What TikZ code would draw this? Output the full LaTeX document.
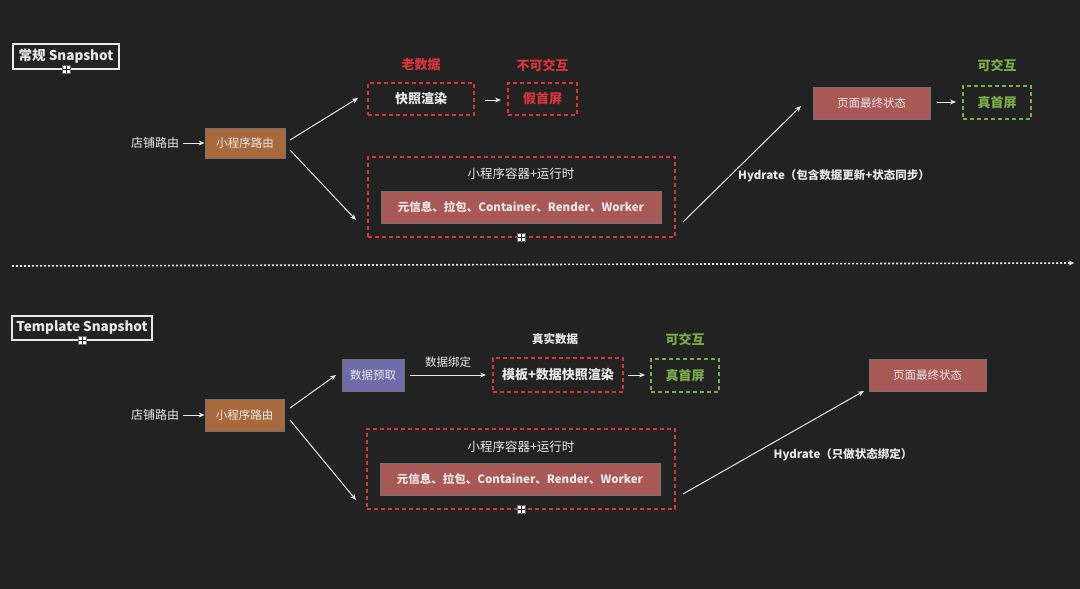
\documentclass[tikz,border=0pt]{standalone}
\usepackage{fontspec}
\setmainfont{Noto Sans CJK SC}
\usetikzlibrary{arrows.meta}
\definecolor{bgc}{HTML}{222222}
\definecolor{boxbrown}{HTML}{A86A3C}
\definecolor{boxred}{HTML}{A85855}
\definecolor{boxpurple}{HTML}{6F6BA8}
\definecolor{dred}{HTML}{D8353B}
\definecolor{gr}{HTML}{7AAE46}
\definecolor{fg}{HTML}{E8E8E8}
\tikzset{
  fnt/.style={font=\fontsize{#1}{#1}\selectfont},
  solidbox/.style={draw=black!55, line width=0.8pt, fill=#1, text=fg, inner sep=0pt, fnt=11.5},
  redbox/.style={draw=dred, line width=1.8pt, dash pattern=on 4pt off 3pt, inner sep=0pt},
  greenbox/.style={draw=gr, line width=1.8pt, dash pattern=on 4pt off 3pt, inner sep=0pt, text=gr, font=\fontsize{13}{13}\selectfont\bfseries},
  titlebox/.style={draw=fg, line width=1.2pt, text=fg, inner sep=0pt, font=\fontsize{13.5}{13.5}\selectfont\bfseries},
  lbl/.style={text=fg, inner sep=0pt, fnt=12},
  redlbl/.style={text=dred, inner sep=0pt, font=\fontsize{13}{13}\selectfont\bfseries},
  greenlbl/.style={text=gr, inner sep=0pt, font=\fontsize{13}{13}\selectfont\bfseries},
  conn/.style={draw=fg, line width=1pt, -{Stealth[length=6pt,width=5pt]}},
  handle/.style={draw=black!60, line width=0.4pt, fill=white, minimum size=8pt, inner sep=0pt,
    path picture={\draw[bgc, line width=0.8pt] (path picture bounding box.north) -- (path picture bounding box.south)
      (path picture bounding box.west) -- (path picture bounding box.east);}},
}
\begin{document}
\begin{tikzpicture}[x=1pt,y=-1pt]
\fill[bgc] (0,0) rectangle (1080,589);
\useasboundingbox (0,0) rectangle (1080,589);

% ===== top section =====
\node[titlebox, minimum width=106pt, minimum height=25pt] (t1) at (66,56.5) {常规 Snapshot};
\node[handle] (h1) at (66,69) {};

\node[lbl] (s1) at (155,143) {店铺路由};
\node[solidbox=boxbrown, minimum width=80pt, minimum height=30pt] (r1) at (245,143) {小程序路由};
\coordinate (s1o) at (183,143);
\draw[conn] (s1o) -- (r1.west);

\node[redbox, minimum width=106pt, minimum height=32pt, text=fg, font=\fontsize{13}{13}\selectfont\bfseries] (k1) at (421,99) {快照渲染};
\node[redlbl] (l1) at (421,65) {老数据};
\node[redbox, minimum width=69pt, minimum height=32pt, text=dred, font=\fontsize{13}{13}\selectfont\bfseries] (f1) at (542.5,99) {假首屏};
\node[redlbl] (l2) at (542.5,65) {不可交互};
\coordinate (a1) at (485,100);
\coordinate (a2) at (501,100);
\draw[conn] (a1) -- (a2);

\node[redbox, minimum width=307pt, minimum height=80pt] (c1) at (521.5,197) {};
\node[lbl, fnt=12.5] (ct1) at (521,174) {小程序容器+运行时};
\node[solidbox=boxred, minimum width=280pt, minimum height=32pt, font=\fontsize{11.5}{11.5}\selectfont\bfseries] (m1) at (521,207) {元信息、拉包、Container、Render、Worker};
\node[handle] (h2) at (521,237) {};

\coordinate (r1a) at (290,140);
\coordinate (r1b) at (290,150);
\coordinate (k1in) at (358,98);
\coordinate (c1in) at (356,220);
\draw[conn] (r1a) -- (k1in);
\draw[conn] (r1b) -- (c1in);

\node[solidbox=boxred, minimum width=117pt, minimum height=32pt] (p1) at (871.5,103) {页面最终状态};
\node[greenbox, minimum width=68pt, minimum height=33pt] (g1) at (997,102.5) {真首屏};
\node[greenlbl] (gl1) at (997,65) {可交互};
\coordinate (p1o) at (937,102);
\coordinate (g1i) at (956,102);
\draw[conn] (p1o) -- (g1i);
\coordinate (hy1s) at (683,222);
\coordinate (hy1e) at (801,106);
\draw[conn] (hy1s) -- (hy1e);
\node[lbl, font=\fontsize{11.5}{11.5}\selectfont\bfseries] (hl1) at (834,176) {Hydrate（包含数据更新+状态同步）};

% ===== separator =====
\coordinate (sep1) at (12,266);
\coordinate (sep2) at (1074,263);
\draw[fg, line width=1.6pt, dash pattern=on 2pt off 2pt, -{Stealth[length=5pt,width=5pt]}] (sep1) -- (sep2);

% ===== bottom section =====
\node[titlebox, minimum width=140pt, minimum height=24pt] (t2) at (82,328) {Template Snapshot};
\node[handle] (h3) at (82,340) {};

\node[lbl] (s2) at (155,415) {店铺路由};
\node[solidbox=boxbrown, minimum width=79pt, minimum height=32pt] (r2) at (244.5,415) {小程序路由};
\coordinate (s2o) at (183,415);
\draw[conn] (s2o) -- (r2.west);

\node[solidbox=boxpurple, minimum width=62pt, minimum height=32pt] (d2) at (373,375) {数据预取};
\node[lbl, fnt=11.5] (bl2) at (448,362) {数据绑定};
\coordinate (d2o) at (410,375);
\coordinate (k2i) at (486,375);
\draw[conn] (d2o) -- (k2i);

\node[redbox, minimum width=130pt, minimum height=34pt, text=fg, font=\fontsize{13}{13}\selectfont\bfseries] (k2) at (558,375) {模板+数据快照渲染};
\node[lbl, font=\fontsize{11.5}{11.5}\selectfont\bfseries] (l3) at (555,339) {真实数据};
\node[greenbox, minimum width=68pt, minimum height=33pt] (g2) at (685,375.5) {真首屏};
\node[greenlbl] (gl2) at (685,339) {可交互};
\coordinate (k2o) at (628,375);
\coordinate (g2i) at (645,375);
\draw[conn] (k2o) -- (g2i);

\node[redbox, minimum width=308pt, minimum height=80pt] (c2) at (521,469) {};
\node[lbl, fnt=12.5] (ct2) at (521,447) {小程序容器+运行时};
\node[solidbox=boxred, minimum width=280pt, minimum height=32pt, font=\fontsize{11.5}{11.5}\selectfont\bfseries] (m2) at (520,479) {元信息、拉包、Container、Render、Worker};
\node[handle] (h4) at (521,509) {};

\coordinate (r2a) at (290,408);
\coordinate (r2b) at (290,420);
\coordinate (d2i) at (336,375);
\coordinate (c2in) at (356,500);
\draw[conn] (r2a) -- (d2i);
\draw[conn] (r2b) -- (c2in);

\node[solidbox=boxred, minimum width=117pt, minimum height=32pt] (p2) at (927.5,375) {页面最终状态};
\coordinate (hy2s) at (683,494);
\coordinate (hy2e) at (864,391);
\draw[conn] (hy2s) -- (hy2e);
\node[lbl, font=\fontsize{11.5}{11.5}\selectfont\bfseries] (hl2) at (843,455) {Hydrate（只做状态绑定）};
\end{tikzpicture}
\end{document}
